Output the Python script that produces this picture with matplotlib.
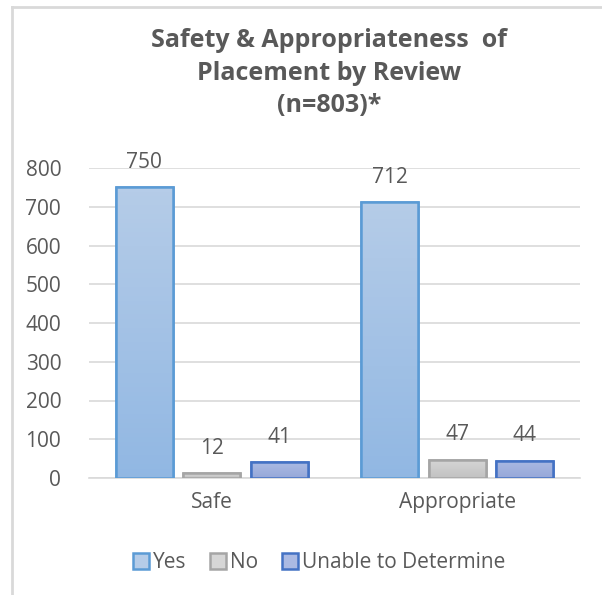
import numpy as np
import matplotlib
matplotlib.use("Agg")
import matplotlib.pyplot as plt
from matplotlib.patches import Rectangle
from matplotlib.lines import Line2D

categories = ["Safe", "Appropriate"]
series = ["Yes", "No", "Unable to Determine"]
yes_vals = [750, 712]
no_vals = [12, 47]
unable_vals = [41, 44]
yticks = [0, 100, 200, 300, 400, 500, 600, 700, 800]
title = "Safety & Appropriateness  of\nPlacement by Review\n(n=803)*"

# (edge, gradient top, gradient bottom)
styles = [
    ("#5B9BD5", (0.71, 0.80, 0.91), (0.57, 0.72, 0.89)),
    ("#A5A5A5", (0.84, 0.84, 0.84), (0.76, 0.76, 0.76)),
    ("#4472C4", (0.67, 0.73, 0.89), (0.59, 0.66, 0.85)),
]
GRAY = "#595959"
FS = 15
plt.rcParams["font.family"] = ["Open Sans", "DejaVu Sans"]

fig = plt.figure(figsize=(6.02, 5.95), dpi=100)
ax = fig.add_axes([89 / 602, 1 - 478 / 595, 491 / 602, 310 / 595])

x = np.arange(len(categories))
width = 0.232
offsets = [-0.275, 0.0, 0.275]

for vals, off, (edge, top, bot) in zip([yes_vals, no_vals, unable_vals], offsets, styles):
    bars = ax.bar(x + off, vals, width, color=top, edgecolor=edge, linewidth=1.8, zorder=3)
    for b, v in zip(bars, vals):
        x0, y0 = b.get_x(), b.get_y()
        grad = np.linspace(0, 1, 64)[:, None, None]
        img = (1 - grad) * np.array(bot) + grad * np.array(top)
        im = ax.imshow(img, extent=[x0, x0 + b.get_width(), y0, y0 + v],
                       origin="lower", aspect="auto", zorder=3.5)
        im.set_clip_path(b)
        ax.add_patch(Rectangle((x0, y0), b.get_width(), v, fill=False,
                               edgecolor=edge, linewidth=1.8, zorder=4))
        ax.annotate(str(v), (b.get_x() + b.get_width() / 2, v), xytext=(0, 18),
                    textcoords="offset points", ha="center", va="center",
                    fontsize=FS, color=GRAY, zorder=5)

ax.set_xlim(-0.5, 1.5)
ax.set_ylim(0, 800)
ax.set_yticks(yticks)
ax.set_xticks(x)
ax.set_xticklabels(categories)
ax.grid(axis="y", color="#D9D9D9", linewidth=1.2, zorder=0)
ax.tick_params(length=0, labelsize=FS, labelcolor=GRAY)
ax.tick_params(axis="y", pad=20)
ax.tick_params(axis="x", pad=10)
for s in ["top", "right", "left"]:
    ax.spines[s].set_visible(False)
ax.spines["bottom"].set_color("#D9D9D9")
ax.spines["bottom"].set_linewidth(1.2)

fig.text(329 / 602, 1 - 73 / 595, title, ha="center", va="center", fontsize=18,
         fontweight="bold", color=GRAY, linespacing=1.42)

handles = [Line2D([], [], marker="s", linestyle="none", markersize=11,
                  markerfacecolor=top, markeredgecolor=edge, markeredgewidth=1.8)
           for edge, top, bot in styles]
fig.legend(handles, series, loc="center", bbox_to_anchor=(318 / 602, 1 - 563 / 595),
           ncol=3, frameon=False, fontsize=FS, labelcolor=GRAY,
           handletextpad=0.1, columnspacing=1.0, handlelength=1.0)

# outer frame lines
fig.add_artist(Line2D([12 / 602, 12 / 602], [0, 1 - 7 / 595], color="#D9D9D9", linewidth=2))
fig.add_artist(Line2D([12 / 602, 1], [1 - 7 / 595, 1 - 7 / 595], color="#D9D9D9", linewidth=2))

fig.savefig("out.png", dpi=100)
